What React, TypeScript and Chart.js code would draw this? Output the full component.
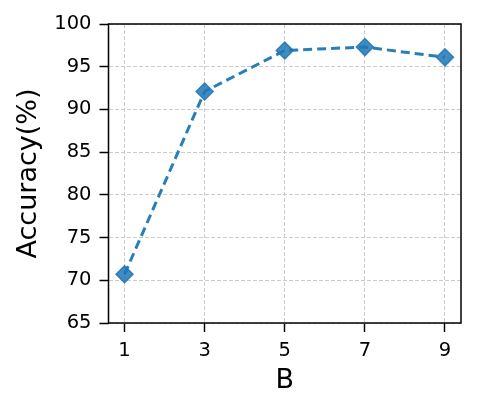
import React, { useEffect, useRef } from "react";
import { Chart, registerables } from "chart.js";

Chart.register(...registerables);

const xValues = [1, 3, 5, 7, 9];
const accuracy = [70.7, 92.1, 96.9, 97.3, 96.1];
const yTicks = [65, 70, 75, 80, 85, 90, 95, 100];

const FONT = "'DejaVu Sans', sans-serif";

const boxPlugin = {
  id: "box",
  afterDraw(chart: any) {
    const { ctx, chartArea } = chart;
    ctx.save();
    ctx.strokeStyle = "#000";
    ctx.lineWidth = 1.5;
    ctx.strokeRect(chartArea.left, chartArea.top, chartArea.right - chartArea.left, chartArea.bottom - chartArea.top);
    ctx.restore();
  },
};

export default function App() {
  const ref = useRef<HTMLCanvasElement | null>(null);
  useEffect(() => {
    if (!ref.current) return;
    const chart = new Chart(ref.current, {
      type: "line",
      data: {
        datasets: [
          {
            data: xValues.map((x, i) => ({ x, y: accuracy[i] })),
            borderColor: "rgba(31,119,180,0.95)",
            borderWidth: 3,
            borderDash: [9, 5],
            pointStyle: "rectRot",
            pointRadius: 8.5,
            pointBackgroundColor: "rgba(31,119,180,0.85)",
            pointBorderColor: "rgba(31,119,180,0.85)",
            pointBorderWidth: 1.5,
            fill: false,
            tension: 0,
          },
        ],
      },
      options: {
        animation: false,
        responsive: false,
        maintainAspectRatio: false,
        plugins: { legend: { display: false }, tooltip: { enabled: false } },
        layout: { padding: { left: 0, top: 24, right: 17, bottom: 0 } },
        scales: {
          x: {
            type: "linear",
            min: 0.6,
            max: 9.4,
            afterBuildTicks: (s: any) => {
              s.ticks = xValues.map((v) => ({ value: v }));
            },
            afterFit: (s: any) => {
              s.height = 90;
            },
            ticks: {
              color: "#000",
              font: { family: FONT, size: 19.5 },
              padding: 7,
              maxRotation: 0,
              callback: (v: any) => String(v),
            },
            grid: {
              color: "#cccccc",
              lineWidth: 1,
              tickLength: 9,
              tickColor: "#000",
              tickWidth: 1.5,
              tickBorderDash: [],
            },
            border: { display: false, dash: [4, 2] },
            title: {
              display: true,
              text: "B",
              color: "#000",
              font: { family: FONT, size: 27 },
              padding: { top: 0, bottom: 16 },
            },
          },
          y: {
            min: 65,
            max: 100,
            afterBuildTicks: (s: any) => {
              s.ticks = yTicks.map((v) => ({ value: v }));
            },
            afterFit: (s: any) => {
              s.width = 108.5;
            },
            ticks: {
              color: "#000",
              font: { family: FONT, size: 19.5 },
              padding: 8,
              callback: (v: any) => String(v),
            },
            grid: {
              color: "#cccccc",
              lineWidth: 1,
              tickLength: 9,
              tickColor: "#000",
              tickWidth: 1.5,
              tickBorderDash: [],
            },
            border: { display: false, dash: [4, 2] },
            title: {
              display: true,
              text: "Accuracy(%)",
              color: "#000",
              font: { family: FONT, size: 27 },
              padding: { top: 13, bottom: 0 },
            },
          },
        },
      },
      plugins: [boxPlugin],
    });
    return () => chart.destroy();
  }, []);
  return (
    <div style={{ position: "fixed", left: 0, top: 0, width: 478, height: 413, background: "#fff" }}>
      <canvas ref={ref} width={478} height={413} style={{ width: 478, height: 413 }} />
    </div>
  );
}
